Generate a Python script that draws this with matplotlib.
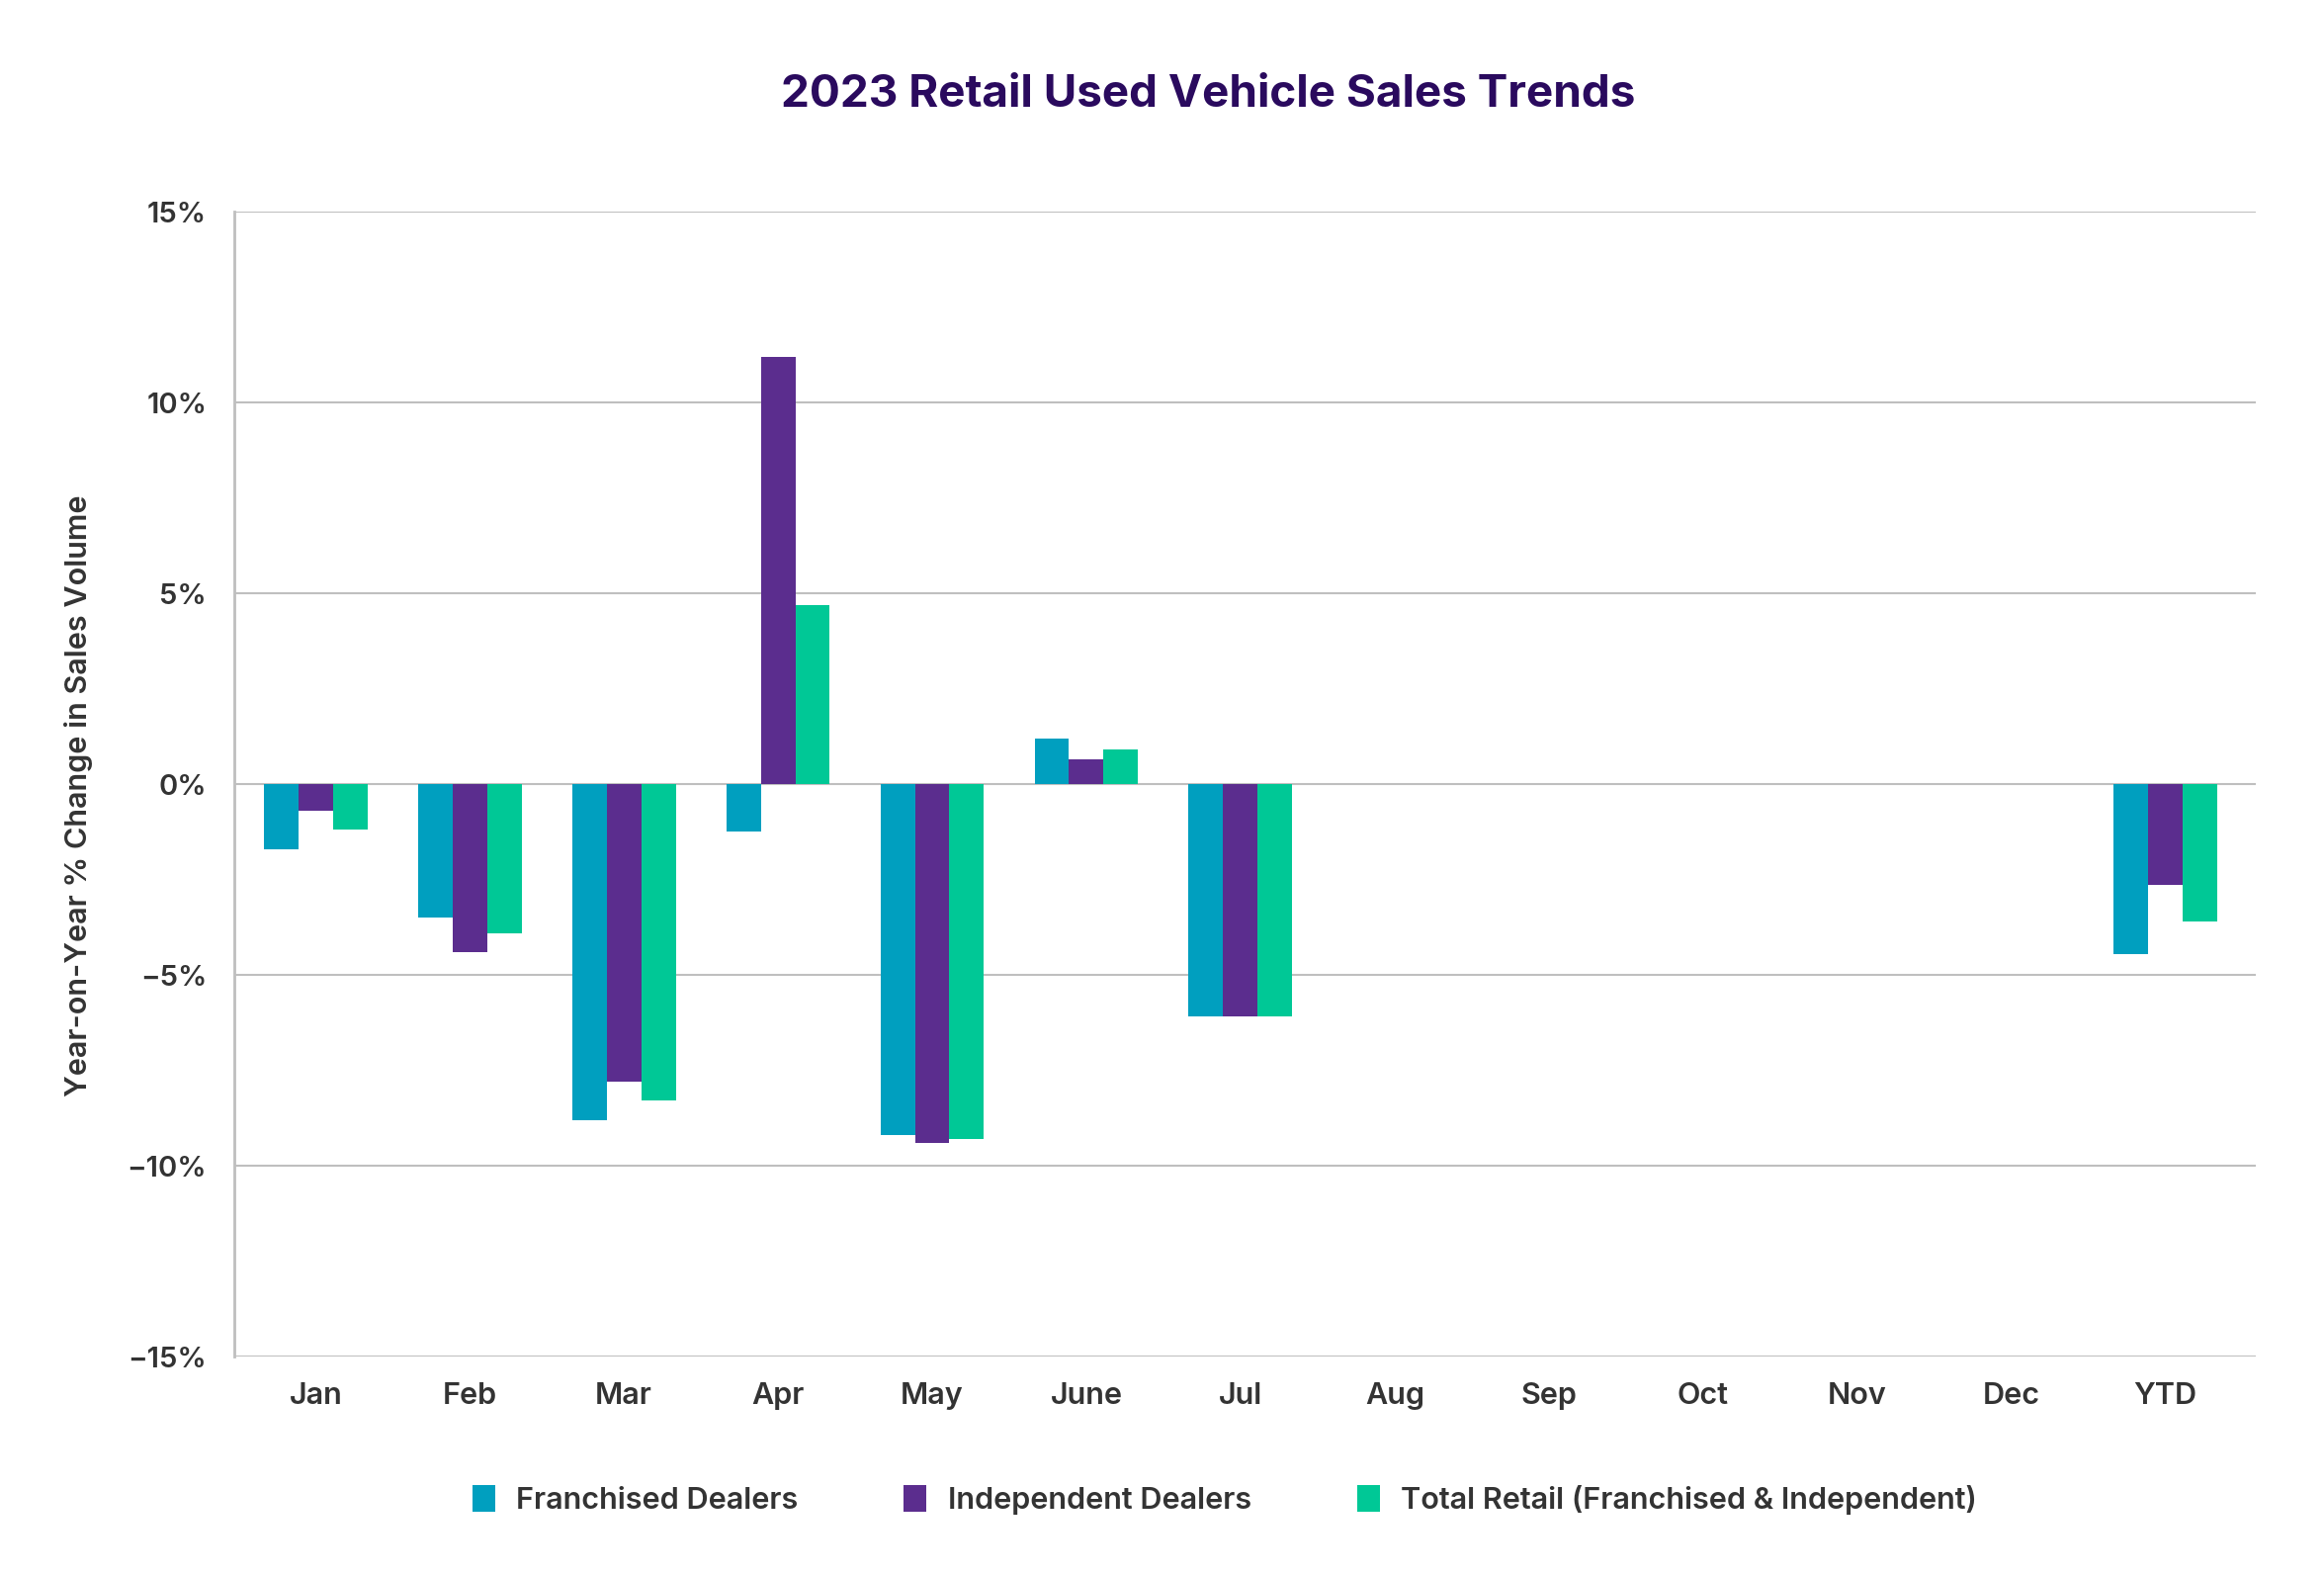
import numpy as np
import matplotlib
matplotlib.use("Agg")
import matplotlib.pyplot as plt
from matplotlib.ticker import FuncFormatter

# data (YoY % change)
months = ["Jan", "Feb", "Mar", "Apr", "May", "June", "Jul", "Aug", "Sep", "Oct", "Nov", "Dec", "YTD"]
franchised = [-1.7, -3.5, -8.8, -1.25, -9.2, 1.2, -6.1, np.nan, np.nan, np.nan, np.nan, np.nan, -4.45]
independent = [-0.7, -4.4, -7.8, 11.2, -9.4, 0.65, -6.1, np.nan, np.nan, np.nan, np.nan, np.nan, -2.65]
total = [-1.2, -3.9, -8.3, 4.7, -9.3, 0.9, -6.1, np.nan, np.nan, np.nan, np.nan, np.nan, -3.6]

series_names = ["Franchised Dealers", "Independent Dealers", "Total Retail (Franchised & Independent)"]
colors = ["#009fbf", "#5b2d8e", "#00c896"]

plt.rcParams['font.family'] = ['Inter', 'DejaVu Sans']

fig = plt.figure(figsize=(23.51, 15.95), dpi=100)
ax = fig.add_axes([0.1008, 0.1398, 0.8698, 0.726])

x = np.arange(len(months))
w = 0.224
for i, (vals, name, c) in enumerate(zip([franchised, independent, total], series_names, colors)):
    ax.bar(x + (i - 1) * w, vals, width=w, color=c, label=name, zorder=3)

ax.set_xlim(-0.528, 12.587)
ax.set_ylim(-15, 15)
ax.set_yticks(np.arange(-15, 16, 5))
ax.yaxis.set_major_formatter(FuncFormatter(lambda v, p: f"{int(v)}%".replace("-", "\u2212")))
ax.set_xticks(x)
ax.set_xticklabels(months)

ax.grid(axis='y', color='#bfbfbf', linewidth=1.5, zorder=0)
for s in ["top", "right", "bottom"]:
    ax.spines[s].set_visible(False)
ax.spines["left"].set_color('#bfbfbf')
ax.spines["left"].set_linewidth(2)
ax.tick_params(axis='both', length=0, labelcolor='#333333')
ax.tick_params(axis='y', pad=20, labelsize=21)
ax.tick_params(axis='x', pad=19, labelsize=22)
for lbl in ax.get_xticklabels() + ax.get_yticklabels():
    lbl.set_fontweight('semibold')

ax.set_ylabel("Year-on-Year % Change in Sales Volume", fontsize=22, fontweight='semibold',
              color='#333333')
ax.yaxis.set_label_coords(-0.0698, 0.49)

fig.text(0.52, 0.94, "2023 Retail Used Vehicle Sales Trends", ha='center', va='center',
         fontsize=33, fontweight='bold', color='#2a0a5e')

leg = fig.legend(loc='center', bbox_to_anchor=(0.527, 0.049), ncol=3, frameon=False,
                 fontsize=22, handlelength=0.75, handleheight=1.0, handletextpad=0.7,
                 columnspacing=3.5)
for t in leg.get_texts():
    t.set_fontweight('semibold')
    t.set_color('#333333')

fig.savefig("out.png", dpi=100)
